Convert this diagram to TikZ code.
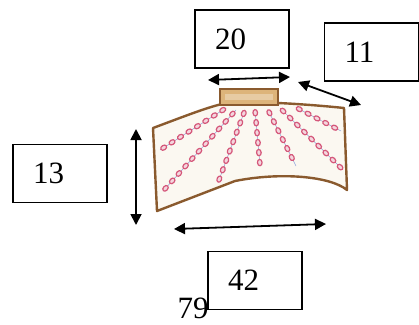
\documentclass[tikz,border=0pt]{standalone}
\usepackage{fontspec}
\setmainfont{Liberation Serif}
\usetikzlibrary{arrows.meta,decorations.markings}
\definecolor{rimbrown}{HTML}{8A5A2E}
\definecolor{paper}{HTML}{FBF8F1}
\definecolor{lidtan}{HTML}{DDB47A}
\definecolor{beadpink}{HTML}{D5577A}
\definecolor{beadfill}{HTML}{F4D6DE}
\definecolor{threadblue}{HTML}{8FA4DC}
\tikzset{
  dimbox/.style={draw, line width=1.3pt, minimum height=58pt, text width=54pt,
    inner xsep=20pt, align=left, font=\fontsize{31}{35}\selectfont},
  dimarrow/.style={line width=1.8pt, {Triangle[length=11pt,width=11pt]}-{Triangle[length=11pt,width=11pt]}},
  beadline/.style={threadblue, line width=0.5pt,
    postaction={decorate, decoration={markings,
      mark=between positions 0.05 and 1 step 10pt with {\draw[beadpink, fill=beadfill, line width=1.2pt] (0,0) ellipse (3.2pt and 2.3pt);}}}},
}
\begin{document}
\begin{tikzpicture}[x=1pt,y=-1pt]
\useasboundingbox (0,0) rectangle (419,324);

% the fabric piece
\draw[rimbrown, line width=2.4pt, fill=paper, line join=round]
  (153,128) .. controls (180,118) and (205,108) .. (222,104) -- (278,103)
  .. controls (300,104) and (325,106) .. (344,108) -- (347,190)
  .. controls (330,176) and (280,172) .. (235,181) -- (157,211) -- cycle;

% bead strings
\draw[beadline] (226,108) -- (160,150);
\draw[beadline] (236,110) -- (164,190);
\draw[beadline] (245,110) -- (219,180);
\draw[beadline] (255,110) -- (260,165);
\draw[beadline] (268,110) -- (296,166);
\draw[beadline] (280,108) -- (341,168);
\draw[beadline] (297,108) -- (341,131);

% collar
\draw[rimbrown, line width=1.8pt, fill=lidtan] (220,89) rectangle (278,105);
\fill[paper, opacity=0.35] (225,94) rectangle (273,100);

% measurement labels
\node[dimbox] (b20) at (242,39) {20};
\node[dimbox] (b11) at (371.5,52) {11};
\node[dimbox] (b13) at (60,173.5) {13};
\node[font=\fontsize{31}{35}\selectfont] (p79) at (193,308) {79};
\node[dimbox] (b42) at (255,280.5) {42};

% measurement arrows
\coordinate (a20l) at (208,80);
\coordinate (a20r) at (290,77);
\coordinate (a11a) at (298,82);
\coordinate (a11b) at (361,105);
\coordinate (a13t) at (136,129);
\coordinate (a13b) at (136,225);
\coordinate (a42l) at (174,229);
\coordinate (a42r) at (326,224);
\draw[dimarrow] (a20l) -- (a20r);
\draw[dimarrow] (a11a) -- (a11b);
\draw[dimarrow] (a13t) -- (a13b);
\draw[dimarrow] (a42l) -- (a42r);
\end{tikzpicture}
\end{document}
